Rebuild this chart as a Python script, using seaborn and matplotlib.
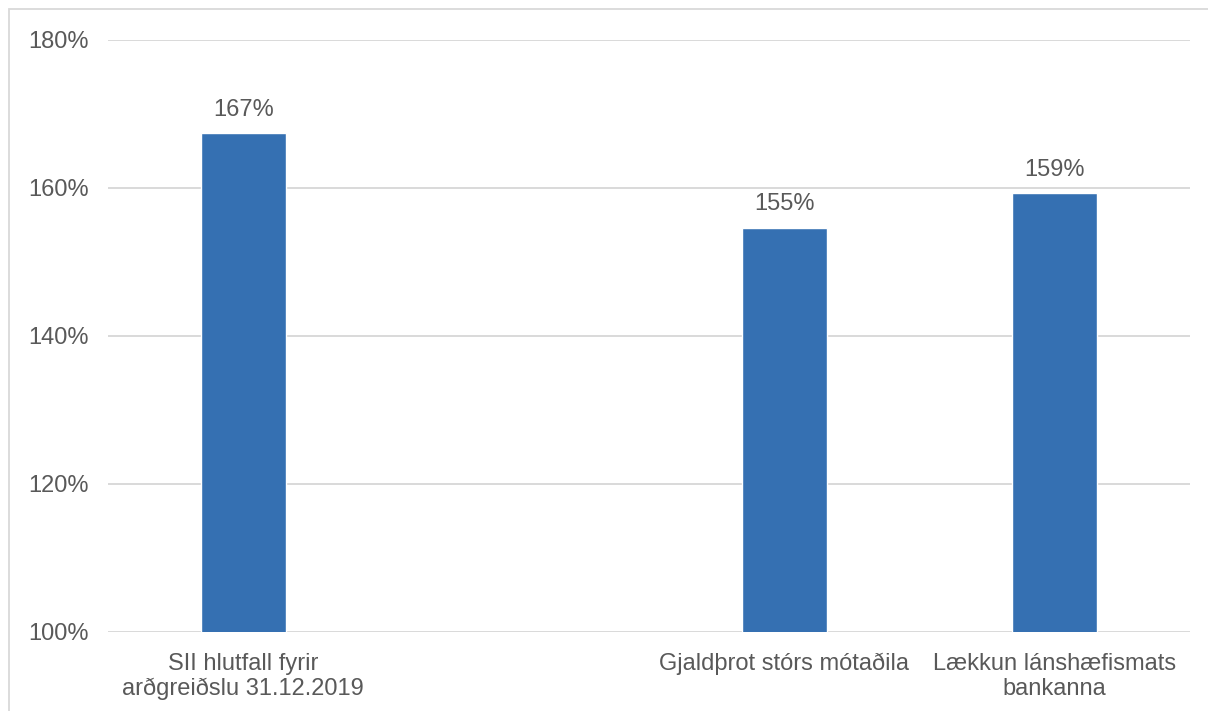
import numpy as np
import pandas as pd
import matplotlib
matplotlib.use("Agg")
import matplotlib.pyplot as plt
from matplotlib.patches import Rectangle
import seaborn as sns

# Solvency II ratio scenarios
categories = ["SII hlutfall fyrir\narðgreiðslu 31.12.2019",
              "Gjaldþrot stórs mótaðila",
              "Lækkun lánshæfismats\nbankanna"]
slot_order = [categories[0], " ", categories[1], categories[2]]
ratios = [1.674, 1.546, 1.593]
y_ticks = [1.0, 1.2, 1.4, 1.6, 1.8]

sns.set_theme(style="white")
plt.rcParams["font.family"] = ["Liberation Sans", "DejaVu Sans"]

text_color = "#595959"
bar_color = "#3570B2"
grid_color = "#D9D9D9"
fs = 17

df = pd.DataFrame({"flokkur": categories, "hlutfall": ratios})

fig = plt.figure(figsize=(12.08, 7.11), dpi=100)
ax = fig.add_axes([108 / 1208, 1 - 632 / 711, (1190 - 108) / 1208, (632 - 40) / 711])

sns.barplot(data=df, x="flokkur", y="hlutfall", order=slot_order,
            color=bar_color, saturation=1, width=0.314, ax=ax, zorder=3)

ax.set_ylim(1.0, 1.8)
ax.set_xlim(-0.5, 3.5)
ax.set_yticks(y_ticks)
ax.set_yticklabels([f"{v:.0%}" for v in y_ticks])
ax.yaxis.grid(True, color=grid_color, linewidth=1.4, zorder=0)
ax.set_axisbelow(True)
for s in ax.spines.values():
    s.set_visible(False)
ax.set_xlabel("")
ax.set_ylabel("")
ax.tick_params(axis="both", length=0, labelsize=fs, labelcolor=text_color)
ax.tick_params(axis="y", pad=14)
ax.tick_params(axis="x", pad=15)
for lbl in ax.get_xticklabels():
    lbl.set_linespacing(1.18)

for cont in ax.containers:
    labels = [f"{b.get_height():.0%}" if np.isfinite(b.get_height()) and b.get_height() > 0 else ""
              for b in cont]
    ax.bar_label(cont, labels=labels, padding=9, fontsize=fs, color=text_color)

# light frame around the chart area
fig.patches.append(Rectangle((9 / 1208, -0.05), 1.1, 1 - 9 / 711 + 0.05,
                             transform=fig.transFigure, fill=False,
                             edgecolor="#D9D9D9", linewidth=1.3))

fig.savefig("out.png", dpi=100, facecolor="white")
